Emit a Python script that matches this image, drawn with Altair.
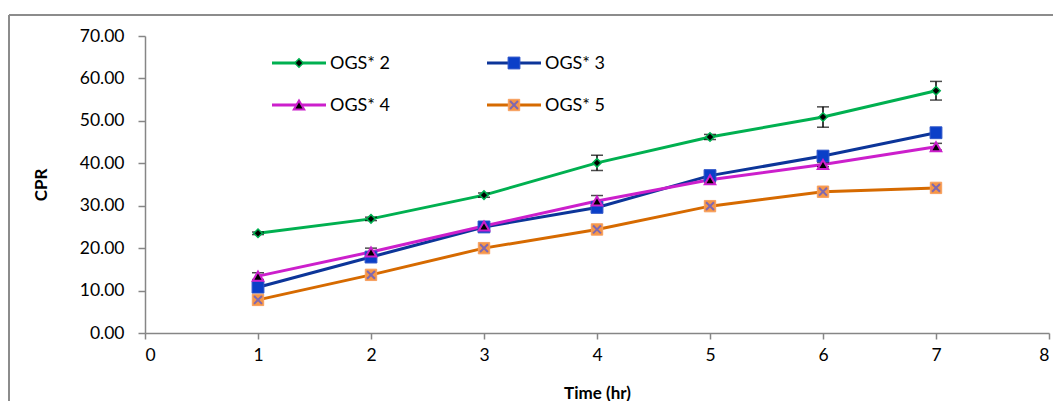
import altair as alt
import pandas as pd

time = [1, 2, 3, 4, 5, 6, 7]
series_names = ["OGS* 2", "OGS* 3", "OGS* 4", "OGS* 5"]
ogs2 = [23.5, 26.9, 32.5, 40.1, 46.2, 50.9, 57.1]
ogs2_err = [0.3, 0.4, 0.5, 1.8, 0.6, 2.4, 2.2]
ogs3 = [10.8, 17.9, 25.0, 29.6, 37.1, 41.7, 47.2]
ogs3_err = [0.0, 0.0, 0.0, 0.0, 0.0, 0.0, 0.0]
ogs4 = [13.4, 19.1, 25.2, 31.1, 36.1, 39.7, 43.9]
ogs4_err = [0.8, 0.9, 0.4, 1.3, 0.5, 0.5, 0.8]
ogs5 = [7.8, 13.7, 20.0, 24.4, 29.9, 33.3, 34.2]
ogs5_err = [0.0, 0.0, 0.0, 0.0, 0.0, 0.0, 0.0]

x_ticks = [0, 1, 2, 3, 4, 5, 6, 7, 8]
y_ticks = [0, 10, 20, 30, 40, 50, 60, 70]

line_colors = ["#00B050", "#0C3599", "#CC1FCC", "#D66A00"]
marker_styles = [
    dict(shape="diamond", fill="#000000", stroke="#00B050", size=72, strokeWidth=1.5),
    dict(shape="square", fill="#0A3FC8", stroke="#2E55C8", size=140, strokeWidth=1),
    dict(shape="triangle-up", fill="#000000", stroke="#CC1FCC", size=110, strokeWidth=2),
    dict(shape="square", fill="#F79646", stroke="#F7A060", size=130, strokeWidth=1),
]

vals = [ogs2, ogs3, ogs4, ogs5]
errs = [ogs2_err, ogs3_err, ogs4_err, ogs5_err]

rows = []
for name, v, e in zip(series_names, vals, errs):
    for t, y, er in zip(time, v, e):
        rows.append({"series": name, "time": t, "cpr": y, "lo": y - er, "hi": y + er, "err": er})
df = pd.DataFrame(rows)

PL, PT, PR, PB = 137, 28, 4, 68
W, H = 904, 297

xenc = alt.X("time:Q", scale=alt.Scale(domain=[0, 8], nice=False),
             axis=alt.Axis(values=x_ticks, format="d", title="Time (hr)", grid=False, labelPadding=7,
                           titleY=60, titleBaseline="middle"))
yenc = alt.Y("cpr:Q", scale=alt.Scale(domain=[0, 70], nice=False),
             axis=alt.Axis(values=y_ticks, format=".2f", title="CPR", grid=False, labelPadding=14,
                           tickSize=7, titleAngle=270, titleX=-104, titleY=H / 2,
                           titleBaseline="middle", titleAlign="center"))

base = alt.Chart(df)

lines = base.mark_line(strokeWidth=3).encode(
    x=xenc, y=yenc,
    color=alt.Color("series:N", scale=alt.Scale(domain=series_names, range=line_colors), legend=None),
)

err_df = df[df["err"] > 0]
ebase = alt.Chart(err_df)
erule = ebase.mark_rule(color="black", strokeWidth=1.5).encode(x="time:Q", y="lo:Q", y2="hi:Q")
ecap_lo = ebase.mark_tick(color="black", orient="horizontal", size=12, thickness=1.5).encode(x="time:Q", y="lo:Q")
ecap_hi = ebase.mark_tick(color="black", orient="horizontal", size=12, thickness=1.5).encode(x="time:Q", y="hi:Q")

layers = [lines, erule, ecap_lo, ecap_hi]

xpath = "M-0.75,-0.75L0.75,0.75M-0.75,0.75L0.75,-0.75"
for i, name in enumerate(series_names):
    st = marker_styles[i]
    sub = alt.Chart(df[df["series"] == name])
    layers.append(sub.mark_point(filled=True, opacity=1, **st).encode(x="time:Q", y="cpr:Q"))
    if i == 3:
        layers.append(sub.mark_point(shape=xpath, filled=False, stroke="#7F68B0", strokeWidth=2,
                                     size=110, opacity=1).encode(x="time:Q", y="cpr:Q"))

# legend (2 x 2, inside the plot area)
leg_pos = [(127, 27), (342, 27), (127, 69), (342, 69)]
for i, name in enumerate(series_names):
    lx, ly = leg_pos[i]
    ldf = pd.DataFrame({"series": [name]})
    lc = alt.Chart(ldf)
    layers.append(lc.mark_rule(color=line_colors[i], strokeWidth=3).encode(
        x=alt.value(lx), x2=alt.value(lx + 54), y=alt.value(ly)))
    st = dict(marker_styles[i])
    layers.append(lc.mark_point(filled=True, opacity=1, **st).encode(
        x=alt.value(lx + 27), y=alt.value(ly)))
    if i == 3:
        layers.append(lc.mark_point(shape=xpath, filled=False, stroke="#7F68B0", strokeWidth=2,
                                    size=110, opacity=1).encode(x=alt.value(lx + 27), y=alt.value(ly)))
    layers.append(lc.mark_text(align="left", baseline="middle", font="Lato", fontSize=18,
                               color="black").encode(x=alt.value(lx + 58), y=alt.value(ly + 1),
                                                     text="series:N"))

# outer chart frame (left and top edges)
frame = alt.Chart(pd.DataFrame({"a": [0]}))
layers.append(frame.mark_rule(color="#8C8C8C", strokeWidth=2).encode(
    x=alt.value(-PL + 1), y=alt.value(-21), y2=alt.value(H + 80)))
layers.append(frame.mark_rule(color="#8C8C8C", strokeWidth=2).encode(
    x=alt.value(-PL + 1), x2=alt.value(W + 20), y=alt.value(-21)))

chart = alt.layer(*layers).properties(
    width=W, height=H,
    autosize=alt.AutoSizeParams(type="none"),
    padding={"left": PL, "top": PT, "right": PR, "bottom": PB},
).configure_view(stroke=None).configure_axis(
    domainColor="#868686", domainWidth=1.5, tickColor="#868686", tickWidth=1.5, tickSize=6,
    labelFont="Lato", labelFontSize=17.5, labelColor="black",
    titleFont="Lato", titleFontSize=17, titleFontWeight="bold", titleColor="black",
)

chart.save("out.html", embed_options={"renderer": "svg", "actions": False})
